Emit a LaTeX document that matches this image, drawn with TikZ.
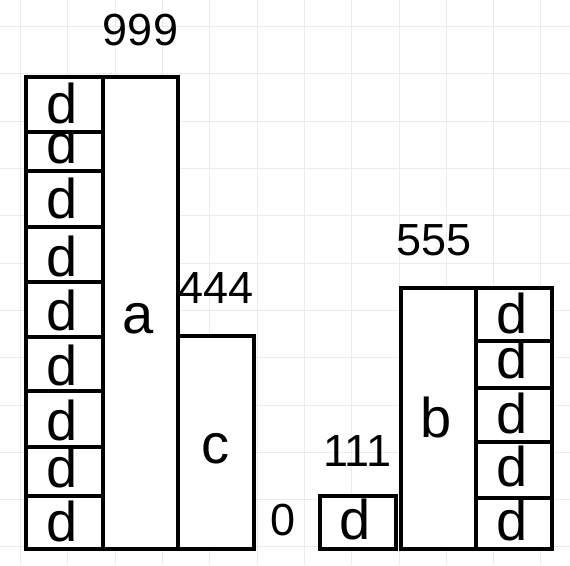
\documentclass[tikz,border=0pt]{standalone}
\usepackage{fontspec}
\setmainfont{Liberation Sans}
\begin{document}
\begin{tikzpicture}[x=1pt,y=-1pt,
  box/.style={draw=black, line width=4pt, fill=white, inner sep=0pt, anchor=north west},
  letter/.style={anchor=base, inner sep=0pt, font=\fontsize{56}{60}\selectfont},
  num/.style={anchor=base, inner sep=0pt, font=\fontsize{45}{50}\selectfont},
  gridline/.style={draw=black!8, line width=0.8pt}]
\useasboundingbox (0,0) rectangle (570,565);
% background grid
\foreach \i in {0,...,11} {
  \draw[gridline] (20.5+47.3*\i,0) -- (20.5+47.3*\i,565);
  \draw[gridline] (0,26.5+47.3*\i) -- (570,26.5+47.3*\i);
}
% box a and c
\node[box, minimum width=75.5pt, minimum height=472pt] (a) at (100.5,75) {};
\node[letter] (la) at (138,333) {a};
\node[box, minimum width=76pt, minimum height=213.5pt] (c) at (176,333.5) {};
\node[letter] (lc) at (215,463) {c};
% left column of d, bottom to top
\node[box, minimum width=76.5pt, minimum height=53pt] (l9) at (24,494) {};
\node[letter] (t9) at (62,541.5) {d};
\node[box, minimum width=76.5pt, minimum height=49.5pt] (l8) at (24,444.5) {};
\node[letter] (t8) at (62,487) {d};
\node[box, minimum width=76.5pt, minimum height=55.5pt] (l7) at (24,389) {};
\node[letter] (t7) at (62,440) {d};
\node[box, minimum width=76.5pt, minimum height=54pt] (l6) at (24,335) {};
\node[letter] (t6) at (62,385) {d};
\node[box, minimum width=76.5pt, minimum height=55pt] (l5) at (24,280) {};
\node[letter] (t5) at (62,330) {d};
\node[box, minimum width=76.5pt, minimum height=55pt] (l4) at (24,225) {};
\node[letter] (t4) at (62,276.5) {d};
\node[box, minimum width=76.5pt, minimum height=55.7pt] (l3) at (24,169.3) {};
\node[letter] (t3) at (62,218) {d};
\node[box, minimum width=76.5pt, minimum height=39.8pt] (l2) at (24,129.5) {};
\node[letter] (t2) at (62,163) {d};
\node[box, minimum width=76.5pt, minimum height=54.5pt] (l1) at (24,75) {};
\node[letter] (t1) at (62,123) {d};
% small d and b
\node[box, minimum width=76pt, minimum height=53pt] (s) at (318,494) {};
\node[letter] (ts) at (355,539) {d};
\node[box, minimum width=75pt, minimum height=261.5pt] (b) at (399,285.5) {};
\node[letter] (lb) at (436.5,437) {b};
% right column of d, bottom to top
\node[box, minimum width=76pt, minimum height=51.5pt] (r5) at (474,495.5) {};
\node[letter] (u5) at (512,540) {d};
\node[box, minimum width=76pt, minimum height=55.5pt] (r4) at (474,440) {};
\node[letter] (u4) at (512,486.5) {d};
\node[box, minimum width=76pt, minimum height=54pt] (r3) at (474,386) {};
\node[letter] (u3) at (512,433) {d};
\node[box, minimum width=76pt, minimum height=47pt] (r2) at (474,339) {};
\node[letter] (u2) at (512,378) {d};
\node[box, minimum width=76pt, minimum height=53.5pt] (r1) at (474,285.5) {};
\node[letter] (u1) at (512,333) {d};
% numbers
\node[num] (n999) at (140.5,45) {999};
\node[num] (n444) at (216,303) {444};
\node[num] (n0) at (283,535) {0};
\node[num] (n111) at (357.5,466.5) {111};
\node[num] (n555) at (434,255) {555};
\end{tikzpicture}
\end{document}
